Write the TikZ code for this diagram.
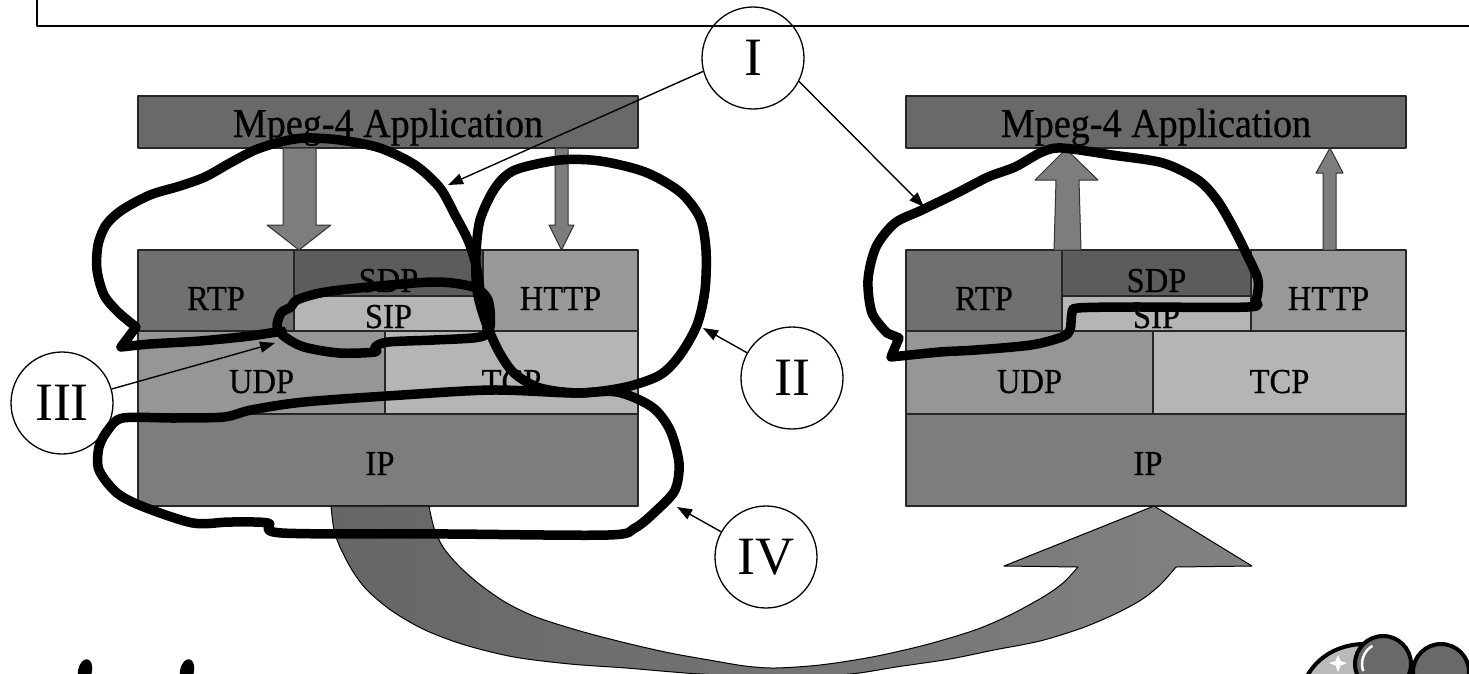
\documentclass[tikz,border=0pt]{standalone}
\usepackage{fontspec}
\setmainfont{Liberation Serif}
\newfontfamily\stackfont[FakeStretch=0.93, FakeBold=0.6]{Liberation Serif}
\usetikzlibrary{arrows.meta}

\definecolor{appgray}{gray}{0.41}
\definecolor{rtpgray}{gray}{0.44}
\definecolor{sdpgray}{gray}{0.36}
\definecolor{sipgray}{gray}{0.71}
\definecolor{httpgray}{gray}{0.60}
\definecolor{udpgray}{gray}{0.59}
\definecolor{tcpgray}{gray}{0.71}
\definecolor{ipgray}{gray}{0.49}
\definecolor{flowgray}{gray}{0.49}
\definecolor{bandleft}{gray}{0.40}
\definecolor{bandright}{gray}{0.51}
\definecolor{clipgray}{gray}{0.41}
\definecolor{cliplight}{gray}{0.73}

\begin{document}
\begin{tikzpicture}[x=1pt, y=-1pt, >={Triangle[length=15pt,width=11pt]}, line join=round]
  \useasboundingbox (0,0) rectangle (1469,673);
  \clip (0,0) rectangle (1469,673);

  % Estilos
  \tikzset{
    layer/.style={draw=black!85, line width=1.6pt, inner sep=0pt},
    tag/.style={anchor=base, inner sep=0pt, font=\stackfont\fontsize{35}{40}\selectfont},
    apptag/.style={anchor=base, inner sep=0pt, font=\stackfont\fontsize{41}{46}\selectfont},
    flow/.style={fill=flowgray, draw=black!80, line width=1pt},
    scribble/.style={line width=9.5pt, line cap=round, line join=round},
    numcircle/.style={circle, draw, line width=1.3pt, minimum size=102pt, inner sep=0pt,
      font=\fontsize{54}{60}\selectfont},
    pointer/.style={->, line width=1.4pt}
  }

  % Marco superior
  \draw[line width=2.5pt] (37,-5) -- (37,26) -- (1475,26);

  % Las dos pilas de protocolos (izquierda y derecha)
  \foreach \s/\dx in {L/0, R/768} {
    \node[layer, fill=appgray,  minimum width=500pt, minimum height=52pt] (mpeg\s) at (388+\dx,122) {};
    \node[layer, fill=rtpgray,  minimum width=156pt, minimum height=81pt] (rtp\s)  at (216+\dx,290.5) {};
    \node[layer, fill=sdpgray,  minimum width=189pt, minimum height=46pt] (sdp\s)  at (388.5+\dx,273) {};
    \node[layer, fill=sipgray,  minimum width=189pt, minimum height=35pt] (sip\s)  at (388.5+\dx,313.5) {};
    \node[layer, fill=httpgray, minimum width=155pt, minimum height=81pt] (http\s) at (560.5+\dx,290.5) {};
    \node[layer, fill=udpgray,  minimum width=247pt, minimum height=83pt] (udp\s)  at (261.5+\dx,372.5) {};
    \node[layer, fill=tcpgray,  minimum width=253pt, minimum height=83pt] (tcp\s)  at (511.5+\dx,372.5) {};
    \node[layer, fill=ipgray,   minimum width=500pt, minimum height=92pt] (ip\s)   at (388+\dx,460) {};

    \node[apptag] (mpegT\s) at (388+\dx,137) {Mpeg-4 Application};
    \node[tag] (rtpT\s)  at (216+\dx,310)   {RTP};
    \node[tag] (sdpT\s)  at (388.5+\dx,292) {SDP};
    \node[tag] (sipT\s)  at (388.5+\dx,328) {SIP};
    \node[tag] (httpT\s) at (560.5+\dx,310) {HTTP};
    \node[tag] (udpT\s)  at (261.5+\dx,393) {UDP};
    \node[tag] (tcpT\s)  at (511.5+\dx,393) {TCP};
    \node[tag] (ipT\s)   at (380+\dx,475)   {IP};
  }

  % Flechas de bloque entre la aplicación y la pila
  \draw[flow] (283,148) -- (316,148) -- (316,225) -- (331,225) -- (299,250) -- (267,225) -- (283,225) -- cycle;
  \draw[flow] (555,148) -- (568,148) -- (568,225) -- (574,225) -- (561.5,250) -- (549,225) -- (555,225) -- cycle;
  \draw[flow] (1054,250) -- (1081,250) -- (1079,180) -- (1098,180) -- (1066,149) -- (1035,180) -- (1056,180) -- cycle;
  \draw[flow] (1323,250) -- (1336,250) -- (1336,173) -- (1343,173) -- (1330,148) -- (1316,173) -- (1323,173) -- cycle;

  % Flecha curva de IP a IP
  \path[draw=black, line width=1pt, left color=bandleft, right color=bandright]
    plot[smooth] coordinates {(331,506) (334,530) (340,547) (352,570) (367,590) (392,611) (425,630)
      (465,645) (514,657) (570,664) (626,668) (700,674) (780,677) (850,674) (896,667) (950,659)
      (994,650) (1040,641) (1082,628) (1115,614) (1141,600) (1160,585) (1176,567)}
    -- (1252,566) -- (1154,506) -- (1004,566)
    -- plot[smooth] coordinates {(1078,567) (1063,583) (1043,597) (1010,615) (975,630) (925,645)
      (872,657) (820,665) (775,668) (745,666) (715,661) (670,653) (626,643) (580,631) (536,617)
      (505,602) (478,583) (458,565) (443,547) (434,528) (429,506)}
    -- cycle;

  % Trazos a mano alzada
  \draw[scribble] plot[smooth] coordinates {(282,331) (250,336) (200,341) (150,344) (121,347)}
    -- (136,327)
    -- plot[smooth] coordinates {(136,327) (118,312) (104,295) (97,270) (98,245) (106,225) (122,210)
      (150,195) (180,186) (205,177) (230,163) (255,150) (280,142) (305,138) (340,140) (380,148)
      (415,165) (440,188) (455,215) (468,240) (476,265) (480,290)};
  \draw[scribble] plot[smooth cycle] coordinates {(297,300) (320,293) (358,288) (434,282) (473,287)
    (488,300) (490,327) (480,337) (434,340) (388,342) (375,347) (375,352) (339,353) (304,347)
    (285,337) (277,327) (281,313) (291,307)};
  \draw[scribble] plot[smooth cycle] coordinates {(476,255) (480,220) (495,188) (515,170) (560,160)
    (600,161) (645,172) (680,192) (700,218) (706,250) (705,290) (697,325) (680,355) (660,375)
    (626,387) (581,393) (540,388) (514,373) (498,350) (485,320) (477,290)};
  \draw[scribble] plot[smooth cycle] coordinates {(123,418) (175,418) (224,417) (251,410) (304,402)
    (402,395) (492,390) (572,393) (617,392) (652,407) (670,430) (679,463) (675,490) (657,510)
    (635,528) (608,535) (450,534) (282,533) (268,523) (230,522) (193,523) (144,507) (117,493)
    (99,470) (99,447) (108,430)};
  \draw[scribble] plot[smooth] coordinates {(891,357) (940,352) (976,350) (1031,345) (1062,337)
    (1070,330) (1072,313) (1078,308) (1132,307) (1248,307) (1256,300) (1258,280) (1248,257)
    (1233,227) (1217,200) (1198,180) (1163,163) (1112,155) (1062,148) (1042,152) (1015,167)
    (988,177) (957,193) (922,210) (895,223) (876,247) (868,280) (872,313) (887,333)}
    -- (899,338) -- (891,357);

  % Círculos numerados
  \node[numcircle] (cI)   at (753,58)  {I};
  \node[numcircle] (cII)  at (792,378) {II};
  \node[numcircle] (cIII) at (62,403)  {III};
  \node[numcircle] (cIV)  at (766,557) {IV};

  % Puntos señalados
  \coordinate (tipA)   at (448,185);
  \coordinate (tipB)   at (924,207);
  \coordinate (tipII)  at (703,328);
  \coordinate (tipIII) at (275,343);
  \coordinate (tipIV)  at (677,507);

  \draw[pointer] (cI.195) -- (tipA);
  \draw[pointer] (cI.-27) -- (tipB);
  \draw[pointer] (cII) -- (tipII);
  \draw[pointer] (cIII) -- (tipIII);
  \draw[pointer] (cIV) -- (tipIV);

  % Adornos en el borde inferior
  \fill[black, rotate around={-12:(85,671)}] (85,671) ellipse (7 and 12);
  \fill[black, rotate around={-12:(187,671)}] (187,671) ellipse (7 and 12);
  \fill[cliplight] (1306,678) .. controls (1318,655) and (1340,645) .. (1362,644) -- (1362,678) -- cycle;
  \draw[line width=4pt] (1306,678) .. controls (1318,655) and (1340,645) .. (1362,644);
  \fill[white] (1338,655) -- (1340.5,661) -- (1347,663) -- (1340.5,665.5) -- (1338,672)
    -- (1335.5,665.5) -- (1329,663) -- (1335.5,661) -- cycle;
  \draw[line width=4pt, fill=clipgray] (1383,664) circle (28);
  \draw[white, line width=2.5pt] (1383,664) ++(-120:21) arc[start angle=-120, end angle=-200, radius=21];
  \draw[line width=4pt, fill=clipgray] (1441,672) circle (28);
\end{tikzpicture}
\end{document}
